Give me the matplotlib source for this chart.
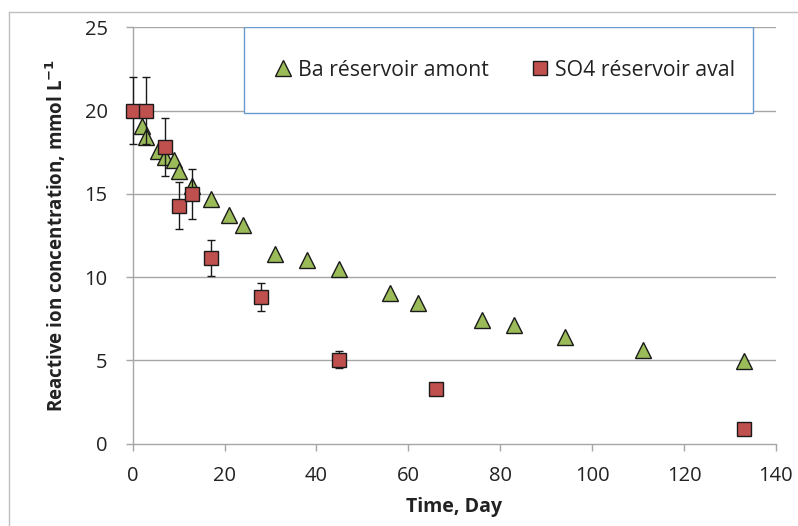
import numpy as np
import matplotlib
matplotlib.use("Agg")
import matplotlib.pyplot as plt
from matplotlib.patches import Rectangle
from matplotlib.lines import Line2D

plt.rcParams['font.family'] = ['Open Sans', 'DejaVu Sans']

# Ba - upstream reservoir (triangles)
ba_days = [2, 3, 5.5, 7, 9, 10, 13, 17, 21, 24, 31, 38, 45, 56, 62, 76, 83, 94, 111, 133]
ba_conc = [19.05, 18.4, 17.55, 17.2, 17.05, 16.35, 15.5, 14.7, 13.75, 13.1,
           11.4, 11.05, 10.5, 9.05, 8.45, 7.45, 7.15, 6.4, 5.65, 4.98]

# SO4 - downstream reservoir (squares) with error bars
so4_days = [0, 3, 7, 10, 13, 17, 28, 45, 66, 133]
so4_conc = [20.0, 20.0, 17.8, 14.3, 15.0, 11.15, 8.8, 5.05, 3.3, 0.88]
so4_err = [2.0, 2.0, 1.75, 1.42, 1.5, 1.1, 0.85, 0.5, 0, 0]

x_ticks = [0, 20, 40, 60, 80, 100, 120, 140]
y_ticks = [0, 5, 10, 15, 20, 25]

green = '#9bbb59'
red = '#c0504d'
grid_col = '#a6a6a6'

fig = plt.figure(figsize=(7.98, 5.26), dpi=100)
ax = fig.add_axes([0.1663, 0.1565, 0.8061, 0.7916])

# outer chart frame
fig.add_artist(Line2D([9/798, 1], [1 - 12/526, 1 - 12/526], color='#bfbfbf', lw=1))
fig.add_artist(Line2D([9/798, 9/798], [0, 1 - 12/526], color='#bfbfbf', lw=1))

for y in y_ticks[1:]:
    ax.axhline(y, color=grid_col, lw=1, zorder=0)

ax.plot(ba_days, ba_conc, linestyle='none', marker='^', markersize=11,
        markerfacecolor=green, markeredgecolor='#1a1a1a', markeredgewidth=1,
        zorder=3, clip_on=False)
ax.errorbar(so4_days, so4_conc, yerr=so4_err, fmt='none', ecolor='#1a1a1a',
            elinewidth=1, capsize=3, capthick=1, zorder=4, clip_on=False)
ax.plot(so4_days, so4_conc, linestyle='none', marker='s', markersize=9.5,
        markerfacecolor=red, markeredgecolor='#1a1a1a', markeredgewidth=1,
        zorder=5, clip_on=False)

ax.set_xlim(0, 140)
ax.set_ylim(0, 25)
ax.set_xticks(x_ticks)
ax.set_yticks(y_ticks)

for s in ['top', 'right']:
    ax.spines[s].set_visible(False)
for s in ['left', 'bottom']:
    ax.spines[s].set_color(grid_col)
    ax.spines[s].set_linewidth(1)

ax.tick_params(axis='x', direction='out', length=5, width=1, color=grid_col,
               labelsize=14.5, labelcolor='#222222', pad=11)
ax.tick_params(axis='y', direction='out', length=5, width=1, color=grid_col,
               labelsize=14.5, labelcolor='#222222', pad=13)

ax.set_xlabel('Time, Day', fontsize=14, fontweight='bold', color='#222222', labelpad=8)
ax.set_ylabel('Reactive ion concentration, mmol L$^{\\mathbf{-1}}$', fontsize=13.5,
              fontweight='bold', color='#222222', labelpad=12)

# legend box
box = Rectangle((0.173, 0.794), 0.7908, 0.206, transform=ax.transAxes,
                facecolor='white', edgecolor='#6a9bd0', lw=1, zorder=6)
ax.add_patch(box)
handles = [
    Line2D([], [], linestyle='none', marker='^', markersize=11, markerfacecolor=green,
           markeredgecolor='#1a1a1a', markeredgewidth=1),
    Line2D([], [], linestyle='none', marker='s', markersize=9.5, markerfacecolor=red,
           markeredgecolor='#1a1a1a', markeredgewidth=1),
]
leg = ax.legend(handles, ['Ba réservoir amont', 'SO4 réservoir aval'], ncol=2,
                loc='center', bbox_to_anchor=(0.173 + 0.7908 / 2 + 0.01, 0.897),
                frameon=False, fontsize=15.3, handlelength=0.8, handletextpad=0.3,
                columnspacing=2.0, labelcolor='#222222')
leg.set_zorder(7)

fig.savefig('out.png', dpi=100)
